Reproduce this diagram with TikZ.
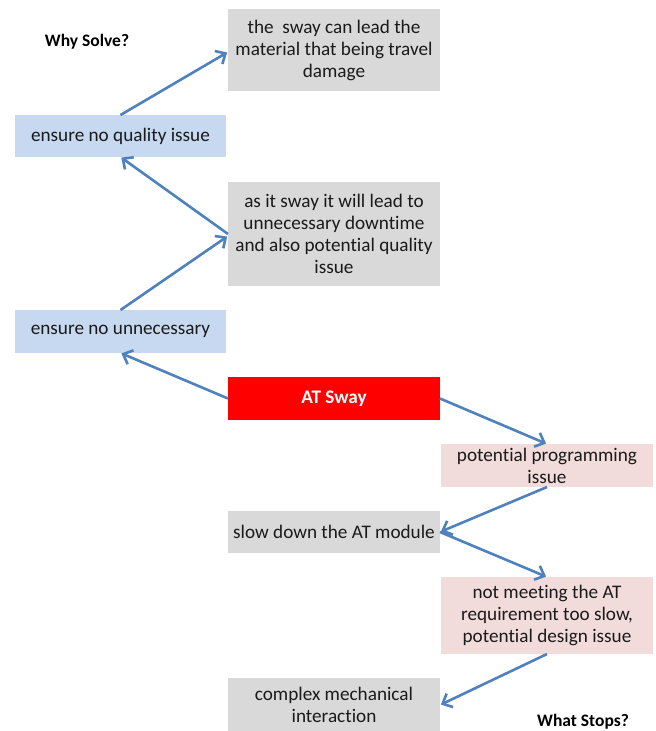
\documentclass[tikz,border=0pt]{standalone}
\usepackage{fontspec}
\setmainfont{Carlito}[Ligatures={NoCommon}]
\usetikzlibrary{arrows.meta}
\definecolor{boxgray}{HTML}{D9D9D9}
\definecolor{boxblue}{HTML}{C6D9F1}
\definecolor{boxpink}{HTML}{F2DCDB}
\definecolor{boxred}{HTML}{FF0000}
\definecolor{arrowblue}{HTML}{4F81BD}
\definecolor{txt}{HTML}{1A1A1A}
\begin{document}
\begin{tikzpicture}[x=1pt,y=1pt,
  every node/.style={inner sep=0pt, outer sep=0pt},
  boxbase/.style={rectangle, minimum width=212pt, align=center, text=txt,
    font=\fontsize{19.2}{22}\selectfont},
  graybox/.style={boxbase, fill=boxgray},
  bluebox/.style={boxbase, fill=boxblue, minimum width=211pt},
  pinkbox/.style={boxbase, fill=boxpink},
  redbox/.style={boxbase, fill=boxred, text=white, font=\fontsize{19.2}{22}\selectfont\bfseries},
  heading/.style={font=\fontsize{17.5}{20}\selectfont\bfseries, text=black},
  conn/.style={draw=arrowblue, line width=2.6pt, -{Straight Barb[length=8pt,width=15pt,line width=2.6pt]}, shorten >=1pt}
]
\useasboundingbox (0,0) rectangle (656,-731);
\fill[white] (0,0) rectangle (656,-731);

\node[heading] (why) at (87,-42) {Why Solve?};
\node[heading] (what) at (583,-722) {What Stops?};

\node[graybox, minimum height=82pt] (b1) at (334,-50) {the\ \ sway can lead the\\material that being travel\\damage};
\node[bluebox, minimum height=42pt] (qual) at (120.5,-136) {ensure no quality issue};
\node[graybox, minimum height=104pt] (b2) at (334,-234) {as it sway it will lead to\\unnecessary downtime\\and also potential quality\\issue};
\node[bluebox, minimum height=43pt] (unn) at (120.5,-331.5) {ensure no unnecessary};
\node[redbox, minimum height=43pt] (at) at (334,-398.5) {AT Sway};
\node[pinkbox, minimum height=43pt] (prog) at (547,-465.5) {potential programming\\issue};
\node[graybox, minimum height=42pt] (slow) at (334,-532) {slow down the AT module};
\node[pinkbox, minimum height=77pt] (meet) at (547,-615.5) {not meeting the AT\\requirement too slow,\\potential design issue};
\node[graybox, minimum height=54pt] (cplx) at (334,-705) {complex mechanical\\interaction};

\draw[conn] (qual.north) -- ([yshift=-2pt]b1.west);
\draw[conn] (b2.west) -- (qual.south);
\draw[conn] (unn.north) -- ([yshift=-2pt]b2.west);
\draw[conn] (at.west) -- (unn.south);
\draw[conn] (at.east) -- (prog.north);
\draw[conn] (prog.south) -- (slow.east);
\draw[conn] (slow.east) -- (meet.north);
\draw[conn] (meet.south) -- (cplx.east);
\end{tikzpicture}
\end{document}
